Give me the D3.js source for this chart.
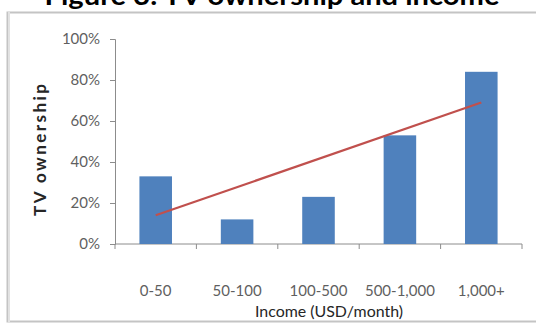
<!DOCTYPE html>
<html>
<head>
<meta charset="utf-8">
<script src="https://cdn.jsdelivr.net/npm/d3@7/dist/d3.min.js"></script>
<style>
  html, body { margin: 0; padding: 0; background: #fff; }
  svg { display: block; }
</style>
</head>
<body>
<svg id="chart" width="536" height="327"></svg>
<script>
// Income brackets and share of households owning a TV (%)
const categories = ["0-50", "50-100", "100-500", "500-1,000", "1,000+"];
const ownership = [33, 12, 23, 53, 84];
// Linear trendline values at the first and last bracket (%)
const trendEnds = [14, 69];
const yTicks = [0, 20, 40, 60, 80, 100];

const svg = d3.select("#chart");
const W = 536, H = 327;

// Plot area
const plotLeft = 115, plotRight = 522, plotTop = 39, plotBottom = 244;

// Chart frame
svg.append("rect")
  .attr("x", 7.5).attr("y", 12.5)
  .attr("width", W + 10).attr("height", 309)
  .attr("fill", "#fff")
  .attr("stroke", "#c4c4c4").attr("stroke-width", 2);
svg.append("line")
  .attr("x1", 9).attr("x2", 9).attr("y1", 12).attr("y2", 322)
  .attr("stroke", "#e2e2e2").attr("stroke-width", 2);

// Title
svg.append("text")
  .attr("x", 272).attr("y", 5)
  .attr("text-anchor", "middle")
  .attr("font-family", "Lato, 'Open Sans', sans-serif")
  .attr("font-weight", "bold")
  .attr("font-size", 26)
  .attr("fill", "#000")
  .attr("textLength", 455).attr("lengthAdjust", "spacingAndGlyphs")
  .text("Figure 3: TV ownership and income");

const x = d3.scaleBand()
  .domain(categories)
  .range([plotLeft, plotRight])
  .paddingInner(0.6)
  .paddingOuter(0.3);

const y = d3.scaleLinear().domain([0, 100]).range([plotBottom, plotTop]);

const axisColor = "#8c8c8c";
const labelFont = "Lato, 'Open Sans', sans-serif";

// Y axis
const yAxis = svg.append("g")
  .attr("transform", `translate(${plotLeft},0)`)
  .call(d3.axisLeft(y).tickValues(yTicks).tickSize(5).tickPadding(10)
    .tickFormat(d => d + "%"));
yAxis.select(".domain").attr("stroke", axisColor);
yAxis.selectAll(".tick line").attr("stroke", axisColor);
yAxis.selectAll(".tick text")
  .attr("font-family", labelFont)
  .attr("font-size", 15)
  .attr("fill", "#5f5f5f");

// X axis with tick marks at bracket boundaries
const xAxis = svg.append("g")
  .attr("transform", `translate(0,${plotBottom})`);
xAxis.append("line")
  .attr("x1", plotLeft).attr("x2", plotRight)
  .attr("stroke", axisColor);
const step = x.step();
const boundaries = d3.range(categories.length + 1).map(i => plotLeft + i * step);
xAxis.selectAll("line.tk").data(boundaries).enter().append("line")
  .attr("class", "tk")
  .attr("x1", d => d).attr("x2", d => d)
  .attr("y1", 0).attr("y2", 5)
  .attr("stroke", axisColor);
xAxis.selectAll("text.lbl").data(categories).enter().append("text")
  .attr("class", "lbl")
  .attr("x", d => x(d) + x.bandwidth() / 2)
  .attr("y", 52)
  .attr("text-anchor", "middle")
  .attr("font-family", labelFont)
  .attr("font-size", 15)
  .attr("fill", "#5f5f5f")
  .text(d => d);

// Bars
svg.append("g").selectAll("rect").data(ownership).enter().append("rect")
  .attr("x", (d, i) => x(categories[i]))
  .attr("y", d => y(d))
  .attr("width", x.bandwidth())
  .attr("height", d => y(0) - y(d))
  .attr("fill", "#4f81bd");

// Trendline
const cx = c => x(c) + x.bandwidth() / 2;
svg.append("line")
  .attr("x1", cx(categories[0])).attr("y1", y(trendEnds[0]))
  .attr("x2", cx(categories[categories.length - 1])).attr("y2", y(trendEnds[1]))
  .attr("stroke", "#c0504d").attr("stroke-width", 2.2);

// Axis titles
svg.append("text")
  .attr("x", 329).attr("y", 317)
  .attr("text-anchor", "middle")
  .attr("font-family", labelFont)
  .attr("font-size", 15)
  .attr("fill", "#262626")
  .attr("textLength", 148).attr("lengthAdjust", "spacingAndGlyphs")
  .text("Income (USD/month)");

svg.append("text")
  .attr("transform", "translate(46,150) rotate(-90)")
  .attr("text-anchor", "middle")
  .attr("font-family", labelFont)
  .attr("font-weight", "bold")
  .attr("font-size", 17)
  .attr("fill", "#262626")
  .attr("textLength", 132).attr("lengthAdjust", "spacing")
  .text("TV ownership");
</script>
</body>
</html>
